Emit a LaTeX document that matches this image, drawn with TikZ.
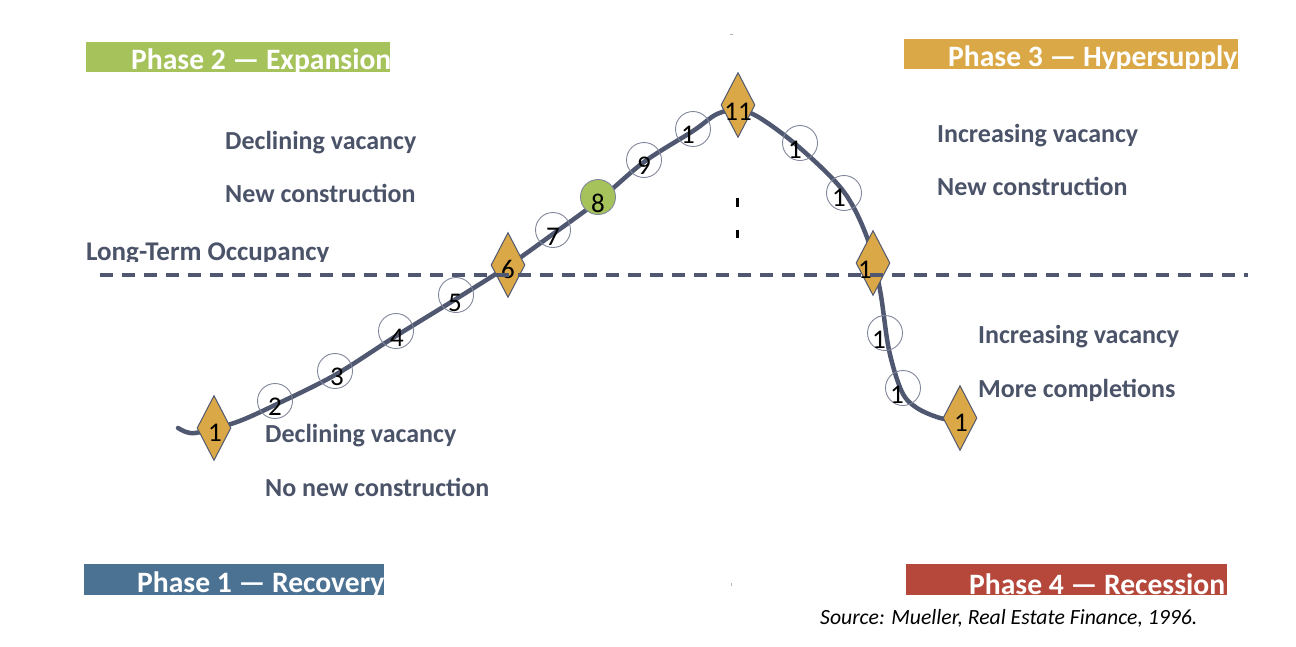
\documentclass[tikz,border=0pt]{standalone}
\usepackage{fontspec}
\setmainfont{Carlito}
\usetikzlibrary{shapes.geometric}
\definecolor{gP2}{HTML}{A6C35B}
\definecolor{gP3}{HTML}{DAA847}
\definecolor{gP1}{HTML}{4B7292}
\definecolor{gP4}{HTML}{B5473B}
\definecolor{txtc}{HTML}{4B5369}
\definecolor{linec}{HTML}{4F5870}
\definecolor{ringc}{HTML}{80869A}
\begin{document}
\begin{tikzpicture}[x=1pt,y=-1pt,
  lbl/.style={font=\fontsize{26}{30}\selectfont\bfseries, text=txtc, anchor=base west, inner sep=0pt},
  phasetxt/.style={font=\fontsize{29.6}{32}\selectfont\bfseries, text=white, anchor=base west, inner sep=0pt},
  ring/.style={circle, draw=ringc, line width=0.9pt, minimum size=35pt, inner sep=0pt},
  dia/.style={diamond, draw=linec, fill=gP3, line width=1pt, minimum width=34pt, minimum height=65pt, inner sep=0pt},
  num/.style={font=\fontsize{27}{29}\selectfont, text=black, inner sep=0pt},
  curve/.style={draw=linec, line width=4.5pt, line cap=round},
  occline/.style={draw=linec, line width=3.2pt, dash pattern=on 13pt off 9pt},
  tickmark/.style={draw=black, line width=3pt}]
\useasboundingbox (0,0) rectangle (1296,646);

% phase boxes
\begin{scope}
\clip (86,42) rectangle (390,71.5);
\fill[gP2] (86,42) rectangle (390,71.5);
\node[phasetxt] (p2) at (131,69) {Phase 2 — Expansion};
\end{scope}
\begin{scope}
\clip (904,38.5) rectangle (1238,68.5);
\fill[gP3] (904,38.5) rectangle (1238,68.5);
\node[phasetxt] (p3) at (948,66) {Phase 3 — Hypersupply};
\end{scope}
\begin{scope}
\clip (84,564) rectangle (384,594.5);
\fill[gP1] (84,564) rectangle (384,594.5);
\node[phasetxt] (p1) at (137,592) {Phase 1 — Recovery};
\end{scope}
\begin{scope}
\clip (906,564) rectangle (1227,595);
\fill[gP4] (906,564) rectangle (1227,595);
\node[phasetxt] (p4) at (969,594) {Phase 4 — Recession};
\end{scope}

% side texts
\node[lbl] (t1) at (225,149) {Declining vacancy};
\node[lbl] (t2) at (225,202) {New construction};
\begin{scope}
\clip (80,230) rectangle (340,261.5);
\node[lbl, font=\fontsize{27}{30}\selectfont\bfseries] (lto) at (86,260) {Long-Term Occupancy};
\end{scope}
\node[lbl] (t3) at (937,142) {Increasing vacancy};
\node[lbl] (t4) at (937,195) {New construction};
\node[lbl] (t5) at (978,343) {Increasing vacancy};
\node[lbl] (t6) at (978,397) {More completions};
\node[lbl] (t7) at (265,442) {Declining vacancy};
\node[lbl] (t8) at (265,496) {No new construction};
\node[font=\fontsize{21.7}{24}\selectfont\itshape, anchor=base west, inner sep=0pt] (src) at (820,624) {Source: Mueller, Real Estate Finance, 1996.};

% small marks
\draw[tickmark] (737.7,198) -- (737.7,207);
\draw[tickmark] (737.7,230) -- (737.7,238);
\draw[gray!60, line width=0.8pt] (730,34.3) -- (733,34.3);
\draw[gray!60, line width=0.8pt] (731,583) -- (731,586);

% the cycle curve
\draw[curve] plot[smooth, tension=0.55] coordinates {
 (178,428) (186,432) (195,433) (214,429) (231,424) (247,418) (275,405)
 (335,375) (396,336) (456,299) (508,266) (553,234) (598,201) (644,162)
 (693,131) (717,114) (738,110) (760,118) (800,148) (844,192) (868,240)
 (880,290) (889,350) (902,392) (917,408) (940,418) (958,420)};

% circles
\node[ring] (c2) at (275,401) {};
\node[ring] (c3) at (335,371) {};
\node[ring] (c4) at (396,331) {};
\node[ring] (c5) at (456,295) {};
\node[ring] (c7) at (553,230) {};
\node[ring, fill=gP2] (c8) at (598,197) {};
\node[ring] (c9) at (644,160) {};
\node[ring] (c10) at (693,129) {};
\node[ring] (c12) at (800,143) {};
\node[ring] (c13) at (844,193) {};
\node[ring] (c15) at (885,333) {};
\node[ring] (c16) at (903,388) {};

% diamonds
\node[dia] (d1) at (214,428) {};
\node[dia] (d6) at (508,265) {};
\node[dia] (d11) at (738,105) {};
\node[dia] (d14) at (873,263) {};
\node[dia] (d17) at (960,418) {};

% numbers
\node[num] (n1) at (215,433) {1};
\node[num] (n2) at (275,407) {2};
\node[num] (n3) at (337,377) {3};
\node[num] (n4) at (397,338) {4};
\node[num] (n5) at (455,303) {5};
\node[num] (n6) at (508,269) {6};
\node[num] (n7) at (553,237) {7};
\node[num] (n8) at (598,203) {8};
\node[num] (n9) at (644,166) {9};
\node[num] (n10) at (688,135) {1};
\node[num] (n11) at (738,112) {11};
\node[num] (n12) at (795,150) {1};
\node[num] (n13) at (839,198) {1};
\node[num] (n14) at (865,270) {1};
\node[num] (n15) at (879,340) {1};
\node[num] (n16) at (897,395) {1};
\node[num] (n17) at (961,423) {1};

% long-term occupancy line
\draw[occline] (100,275) -- (1248,275);
\end{tikzpicture}
\end{document}
